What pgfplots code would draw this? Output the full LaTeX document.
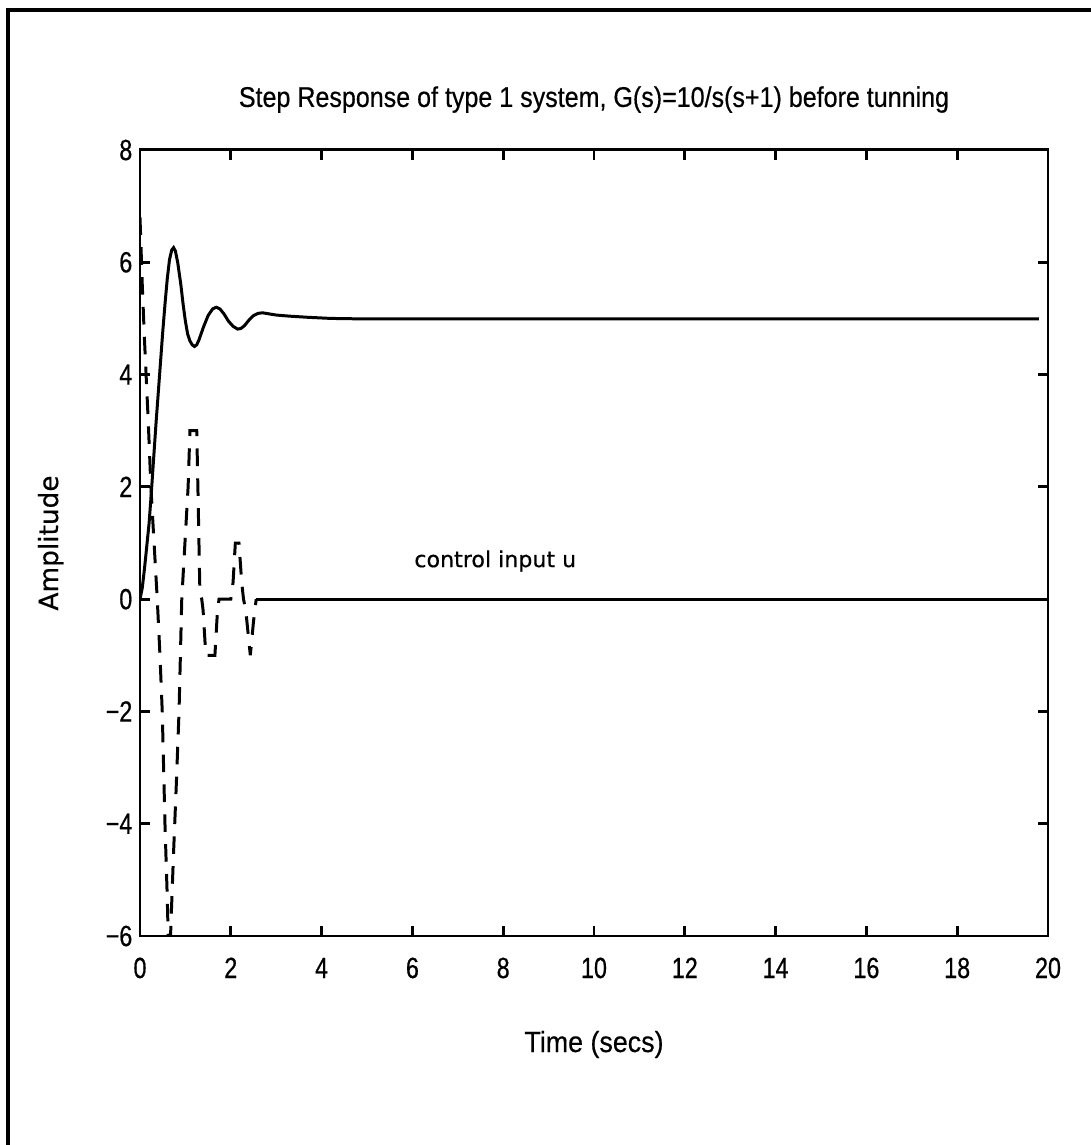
\documentclass[border=0pt]{standalone}
\usepackage{fontspec}
\setmainfont{Liberation Sans}
\newfontfamily\tickfont[FakeStretch=0.8,FakeBold=0.6]{Liberation Sans}
\newfontfamily\titlefont[FakeStretch=0.88,FakeBold=0.5]{Liberation Sans}
\newfontfamily\labelfont[FakeStretch=0.92,FakeBold=0.5]{Liberation Sans}
\newfontfamily\widefont[FakeBold=0.4]{DejaVu Sans}
\usepackage{pgfplots}
\pgfplotsset{compat=1.18}

\begin{document}
\begin{tikzpicture}
    % picture size fixed to the reference page (1 px = 0.1 mm)
    \useasboundingbox (-14mm,-20.9mm) rectangle (95.1mm,93.6mm);
    \begin{axis}[
        at={(0,0)}, anchor=south west,
        width=90.8mm, height=78.6mm,
        scale only axis,
        xmin=0, xmax=20,
        ymin=-6, ymax=8,
        xtick={0,2,...,20},
        ytick={-6,-4,...,8},
        yticklabels={−6,−4,−2,0,2,4,6,8},
        tick align=inside,
        major tick length=1mm,
        axis line style={line width=0.85pt},
        every tick/.style={black, line width=0.85pt},
        /pgf/number format/assume math mode=true,
        tick label style={font=\tickfont\fontsize{8.3}{9}\selectfont},
        xticklabel style={anchor=base, yshift=-4.2mm},
        yticklabel style={anchor=east, inner sep=0pt, xshift=-0.7mm},
        title={Step Response of type 1 system, G(s)=10/s(s+1) before tunning},
        title style={at={(axis description cs:0.5,1)}, anchor=base, yshift=2.2mm,
            font=\titlefont\fontsize{8.1}{9}\selectfont},
        xlabel={Time (secs)},
        xlabel style={at={(axis description cs:0.5,0)}, anchor=base, yshift=-11.6mm,
            font=\labelfont\fontsize{8.3}{9}\selectfont},
        ylabel={Amplitude},
        ylabel style={at={(axis description cs:-0.0903,0.5)}, anchor=base,
            font=\widefont\fontsize{7.5}{9}\selectfont},
    ]

    % step response y(t)
    \addplot[black, line width=0.85pt] coordinates {
        (0,0) (0.05,0.2) (0.1,0.55) (0.15,0.95) (0.2,1.35) (0.25,1.9)
        (0.3,2.5) (0.35,3.1) (0.4,3.65) (0.45,4.2) (0.5,4.75) (0.55,5.25)
        (0.6,5.7) (0.65,6.05) (0.7,6.22) (0.74,6.26) (0.78,6.2) (0.83,6.0)
        (0.9,5.6) (0.95,5.25) (1.0,4.95) (1.05,4.72) (1.1,4.6) (1.15,4.53)
        (1.2,4.5) (1.25,4.53) (1.3,4.62) (1.4,4.85) (1.5,5.05) (1.6,5.17)
        (1.68,5.2) (1.76,5.17) (1.85,5.08) (1.95,4.95) (2.05,4.86) (2.15,4.81)
        (2.22,4.82) (2.3,4.87) (2.4,4.97) (2.5,5.05) (2.6,5.09) (2.7,5.1)
        (2.85,5.08) (3.0,5.06) (3.3,5.04) (3.7,5.02) (4.2,5.0) (5,4.99)
        (19.8,4.99)
    };

    % control input u (dashed part)
    \addplot[black, line width=0.85pt, dash pattern=on 5pt off 3.5pt] coordinates {
        (0,6.8) (0.05,5.6) (0.1,4.6) (0.18,3.2) (0.24,2.0) (0.31,1.0)
        (0.38,0) (0.44,-1.0) (0.49,-2.0) (0.55,-4.0) (0.6,-5.3) (0.63,-6.3)
        (0.66,-6.3) (0.69,-5.6) (0.74,-4.5) (0.8,-3.3) (0.86,-2.0) (0.92,0)
        (0.99,1.0) (1.06,2.0) (1.1,3.0) (1.25,3.0) (1.28,1.8) (1.32,0.1)
        (1.36,0) (1.39,-0.2) (1.45,-1.0) (1.65,-1.0) (1.7,-0.3) (1.74,0)
        (2.0,0) (2.05,0.3) (2.1,1.0) (2.18,1.0) (2.24,0.3) (2.28,0)
        (2.33,-0.2) (2.43,-1.0) (2.5,-0.4) (2.56,0)
    };
    % control input u (settled part)
    \addplot[black, line width=0.85pt] coordinates {(2.56,0) (20,0)};

    \node[anchor=base west, font=\widefont\fontsize{6.3}{9}\selectfont]
        at (axis cs:5.77,0.57) {control input u};
    \end{axis}
    % page frame
    \draw[line width=0.9pt] (-13.2mm,-20.9mm) -- (-13.2mm,92.6mm) -- (95.1mm,92.6mm);
\end{tikzpicture}
\end{document}
